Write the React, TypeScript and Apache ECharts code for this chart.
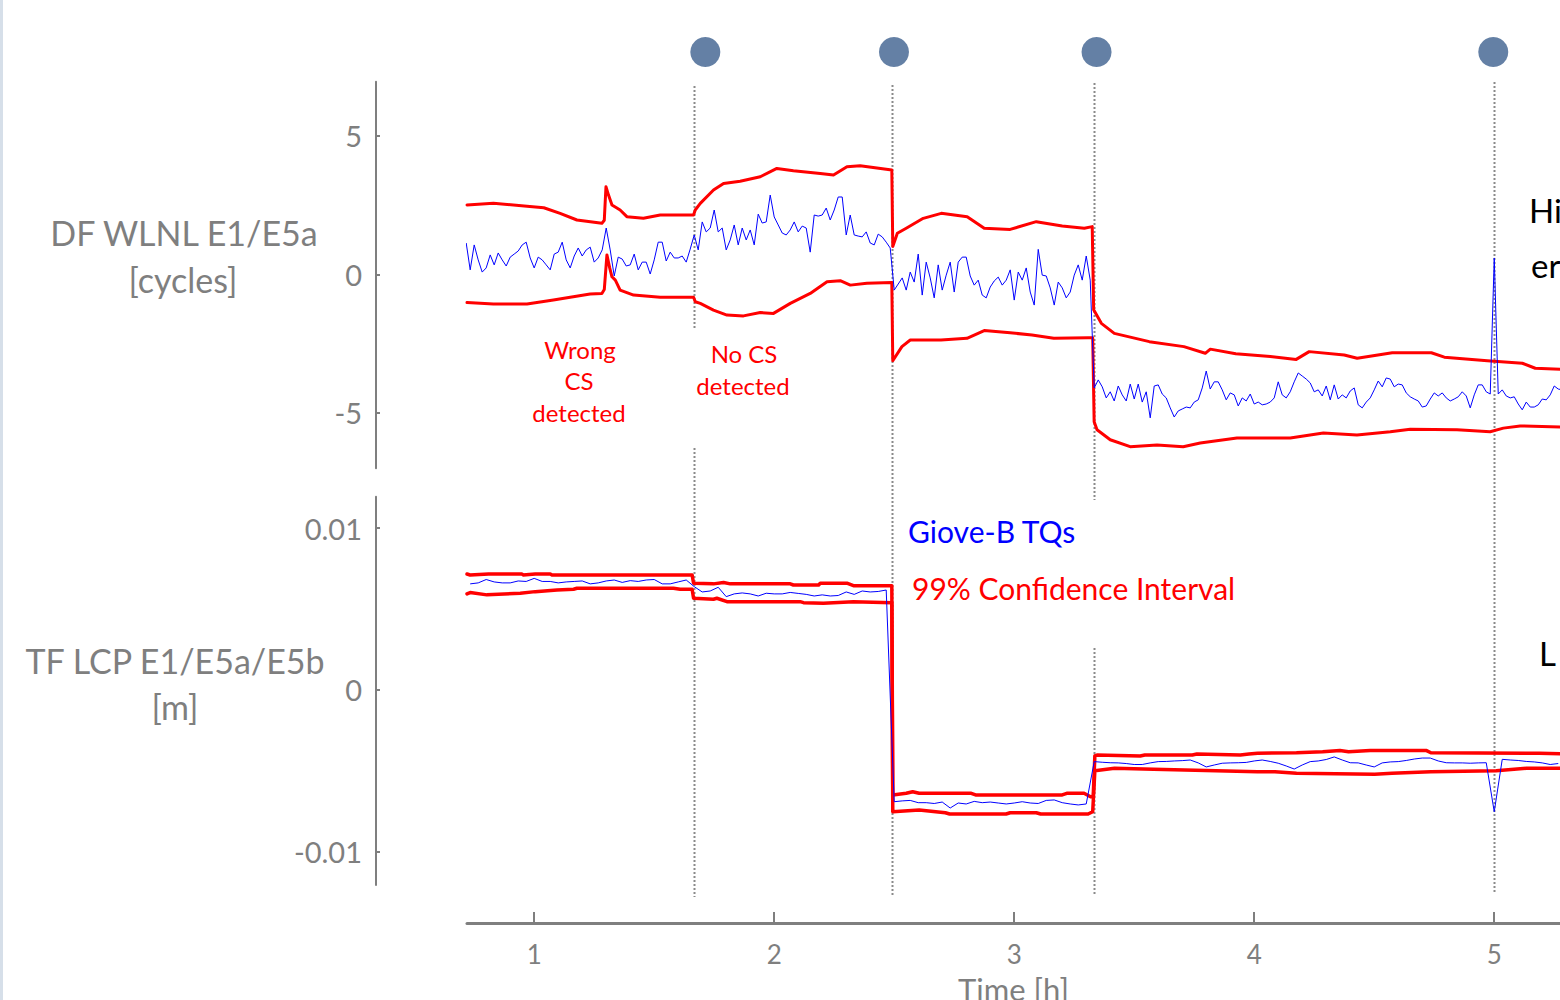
import React, { useEffect, useRef } from "react";
import * as echarts from "echarts";

// ---------- DATA ----------
// Top panel (DF WLNL E1/E5a, cycles): Giove-B test quantity, sampled every minute from minute 43
const TOP_T0_MIN = 43;
const TOP_STEP_MIN = 1;
const TOP_BLUE = [
  1.13, 0.16, 1.06, 0.52, 0.08, 0.23, 0.70, 0.34, 0.77, 0.52,
  0.30, 0.62, 0.73, 0.84, 1.06, 1.16, 0.59, 0.23, 0.62, 0.52,
  0.34, 0.16, 0.73, 0.80, 1.16, 0.52, 0.23, 0.66, 0.95, 0.66,
  0.88, 0.98, 0.44, 0.59, 0.88, 1.67, 0.88, -0.06, 0.62, 0.55,
  0.30, 0.34, 0.73, 0.16, 0.44, 0.44, 0.01, 0.52, 1.16, 1.16,
  0.48, 0.80, 0.59, 0.59, 0.66, 0.44, 0.91, 1.42,
  0.88, 1.89, 1.53, 1.67, 2.32, 1.53, 1.67, 0.88, 1.24, 1.78,
  1.06, 1.67, 1.24, 1.60, 1.06, 2.17, 1.85, 1.89, 2.86, 2.07,
  1.78, 1.49, 1.42, 1.60, 1.89, 1.53, 1.74, 1.67, 0.80, 2.14,
  2.10, 2.14, 2.39, 1.96, 2.32, 2.79, 2.79, 1.42, 2.14, 1.42,
  1.38, 1.35, 1.53, 1.13, 1.06, 1.45, 1.35, 1.16, 0.95,
  -0.57, -0.35, -0.13, -0.57, 0.08, -0.28, 0.73, -0.75, 0.44, -0.13,
  -0.85, 0.34, -0.57, -0.03, 0.44, -0.64, 0.44, 0.62, 0.62, -0.06,
  -0.39, -0.21, -0.75, -0.85, -0.46, -0.24, -0.10, -0.39, -0.21, 0.16,
  -0.93, 0.08, -0.21, 0.23, -0.64, -1.11, 0.90, -0.03, -0.06, -0.49,
  -1.11, -0.28, -0.49, -0.85, -0.64, -0.03, 0.34, -0.21, 0.66, -0.21,
  -4.10, -3.81, -4.06, -4.46, -4.24, -4.57, -4.03, -4.35, -4.57, -3.96,
  -4.50, -3.96, -4.61, -4.24, -5.18, -4.03, -3.99, -4.32, -4.46, -4.82,
  -5.15, -4.93, -4.86, -4.79, -4.82, -4.61, -4.53, -4.10, -3.49, -4.14,
  -3.88, -3.88, -4.17, -4.53, -4.28, -4.35, -4.75, -4.46, -4.57, -4.32,
  -4.68, -4.61, -4.71, -4.68, -4.61, -4.46, -3.88, -4.35, -4.46, -4.24,
  -3.88, -3.56, -3.67, -3.78, -3.92, -4.24, -4.17, -4.39, -4.03, -4.53,
  -3.99, -4.50, -4.35, -4.46, -4.21, -4.10, -4.71, -4.82, -4.61, -4.46,
  -4.17, -3.85, -4.06, -3.74, -3.78, -4.06, -3.96, -3.99, -4.28, -4.42,
  -4.50, -4.57, -4.79, -4.75, -4.50, -4.28, -4.39, -4.28, -4.46, -4.57,
  -4.50, -4.42, -4.24, -4.39, -4.82, -4.35, -3.99, -3.99, -4.24, -4.32,
  0.59, -4.32, -4.17, -4.39, -4.46, -4.42, -4.68, -4.89, -4.61, -4.79,
  -4.79, -4.71, -4.50, -4.53, -4.35, -4.03, -4.14, -4.17,
];
// 99% confidence interval bounds, [time h, cycles]
const TOP_UPPER = [
  [0.72, 2.5], [0.83, 2.56], [0.97, 2.46], [1.04, 2.4], [1.108, 2.2], [1.178, 1.96],
  [1.282, 1.84], [1.292, 1.95], [1.299, 3.16], [1.31, 2.85], [1.324, 2.5], [1.358, 2.32],
  [1.386, 2.08], [1.455, 2.02], [1.525, 2.14], [1.664, 2.14], [1.671, 2.32], [1.692, 2.56],
  [1.747, 3.04], [1.789, 3.28], [1.858, 3.36], [1.942, 3.52], [2.011, 3.82], [2.08, 3.74],
  [2.192, 3.64], [2.247, 3.58], [2.303, 3.88], [2.358, 3.92], [2.49, 3.76], [2.494, 1.0],
  [2.513, 1.48], [2.55, 1.66], [2.621, 2.02], [2.696, 2.2], [2.804, 2.08], [2.875, 1.66],
  [2.983, 1.62], [3.092, 1.9], [3.2, 1.74], [3.292, 1.66], [3.325, 1.72], [3.331, -1.28],
  [3.363, -1.77], [3.417, -2.13], [3.563, -2.43], [3.707, -2.61], [3.796, -2.85], [3.817, -2.7],
  [3.923, -2.87], [4.067, -2.97], [4.175, -3.07], [4.229, -2.79], [4.375, -2.91], [4.429, -3.03],
  [4.575, -2.83], [4.738, -2.83], [4.792, -2.99], [4.971, -3.12], [5.117, -3.21], [5.171, -3.39],
  [5.3, -3.43],
];
const TOP_LOWER = [
  [0.72, -1.02], [0.83, -1.07], [0.97, -1.07], [1.08, -0.93], [1.15, -0.83], [1.233, -0.71],
  [1.282, -0.69], [1.292, -0.55], [1.303, 0.7], [1.314, 0.25], [1.324, -0.09], [1.338, -0.21],
  [1.358, -0.57], [1.414, -0.75], [1.525, -0.83], [1.664, -0.83], [1.671, -0.99], [1.692, -1.05],
  [1.747, -1.29], [1.803, -1.47], [1.872, -1.5], [1.942, -1.38], [1.997, -1.41], [2.067, -1.05],
  [2.15, -0.69], [2.22, -0.27], [2.275, -0.23], [2.317, -0.39], [2.386, -0.32], [2.49, -0.3],
  [2.494, -3.12], [2.532, -2.61], [2.567, -2.37], [2.695, -2.37], [2.803, -2.31], [2.875, -2.03],
  [2.983, -2.11], [3.074, -2.19], [3.165, -2.31], [3.308, -2.29], [3.327, -2.29], [3.333, -5.32],
  [3.345, -5.61], [3.4, -5.97], [3.483, -6.22], [3.595, -6.16], [3.704, -6.22], [3.775, -6.09],
  [3.928, -5.91], [4.15, -5.91], [4.288, -5.73], [4.428, -5.8], [4.567, -5.68], [4.65, -5.59],
  [4.845, -5.61], [4.983, -5.68], [5.038, -5.55], [5.108, -5.47], [5.3, -5.52],
];

// Bottom panel (TF LCP E1/E5a/E5b), values in mm, sampled every 2 minutes from minute 44
const BOT_T0_MIN = 44;
const BOT_STEP_MIN = 2;
const BOT_BLUE_MM = [
  6.56, 6.62, 6.83, 6.68, 6.62, 6.62, 6.74, 6.71, 6.90, 6.71,
  6.71, 6.62, 6.68, 6.71, 6.74, 6.56, 6.62, 6.74, 6.80, 6.65,
  6.76, 6.71, 6.80, 6.83, 6.56, 6.56, 6.68, 6.80, 6.39,
  6.06, 6.12, 6.35, 5.77, 5.94, 6.00, 5.94, 5.81, 5.98, 5.94,
  5.94, 6.03, 5.97, 5.91, 5.81, 5.88, 5.81, 5.84, 6.06, 5.91,
  6.12, 6.06, 6.09, 6.18,
  -6.91, -6.86, -6.83, -6.97, -6.97, -7.02, -6.93, -7.30, -6.99, -7.05,
  -6.89, -6.97, -6.93, -6.99, -7.05, -6.99, -6.91, -6.99, -7.02, -6.83,
  -6.80, -6.97, -7.05, -7.11, -7.05,
  -4.43, -4.47, -4.50, -4.51, -4.55, -4.61, -4.61, -4.51, -4.43, -4.42,
  -4.39, -4.37, -4.33, -4.51, -4.76, -4.64, -4.53, -4.51, -4.50, -4.48,
  -4.39, -4.33, -4.42, -4.53, -4.70, -4.89, -4.64, -4.43, -4.39, -4.30,
  -4.14, -4.33, -4.50, -4.51, -4.64, -4.76, -4.51, -4.45, -4.43, -4.36,
  -4.27, -4.21, -4.21, -4.39, -4.50, -4.51, -4.51, -4.53, -4.51, -4.50,
  -7.53, -4.29, -4.33, -4.36, -4.42, -4.45, -4.51, -4.61, -4.55,
];
const BOT_UPPER_MM = [
  [0.72, 7.17], [0.733, 7.11], [0.81, 7.17], [0.949, 7.17], [0.954, 7.11], [1.004, 7.17],
  [1.067, 7.17], [1.074, 7.11], [1.658, 7.11], [1.664, 6.6], [1.747, 6.56], [1.789, 6.64],
  [1.817, 6.56], [2.067, 6.56], [2.08, 6.49], [2.185, 6.49], [2.192, 6.6], [2.303, 6.6],
  [2.33, 6.45], [2.49, 6.45], [2.494, -6.49], [2.55, -6.39], [2.577, -6.29], [2.604, -6.39],
  [2.821, -6.39], [2.839, -6.49], [3.2, -6.49], [3.219, -6.39], [3.291, -6.39], [3.318, -6.6],
  [3.329, -6.6], [3.336, -4.08], [3.345, -4.02], [3.525, -4.08], [3.544, -4.02], [3.742, -4.02],
  [3.761, -3.96], [3.942, -4.02], [3.978, -3.96], [4.014, -3.91], [4.176, -3.88], [4.285, -3.82],
  [4.357, -3.75], [4.393, -3.82], [4.483, -3.75], [4.718, -3.75], [4.736, -3.88], [5.188, -3.91],
  [5.3, -3.96],
];
const BOT_LOWER_MM = [
  [0.72, 5.94], [0.733, 6.02], [0.803, 5.88], [0.942, 5.98], [1.004, 6.08], [1.095, 6.18],
  [1.164, 6.23], [1.178, 6.29], [1.58, 6.29], [1.608, 6.23], [1.658, 6.23], [1.664, 5.67],
  [1.747, 5.61], [1.761, 5.67], [1.803, 5.46], [2.108, 5.46], [2.122, 5.4], [2.205, 5.36],
  [2.33, 5.46], [2.49, 5.4], [2.494, -7.53], [2.604, -7.42], [2.713, -7.59], [2.731, -7.67],
  [2.966, -7.67], [2.983, -7.59], [3.092, -7.59], [3.11, -7.67], [3.308, -7.67], [3.327, -7.53],
  [3.336, -4.99], [3.418, -4.84], [3.58, -4.9], [4.014, -5.05], [4.086, -5.05], [4.176, -5.15],
  [4.502, -5.21], [4.574, -5.15], [4.736, -5.05], [5.008, -4.99], [5.134, -4.84], [5.3, -4.84],
];

// Events (hours): dotted separators and the markers above them
const EVENT_TIMES = [1.667, 2.492, 3.333, 5.0];
const MARKER_TIMES = [1.713, 2.499, 3.343, 4.996];
const X_TICKS = [1, 2, 3, 4, 5];
const TOP_Y_TICKS = [-5, 0, 5];
const BOT_Y_TICKS_MM = [-10, 0, 10];

// ---------- STYLE / LAYOUT ----------
const FONT = "Lato, 'Noto Sans', sans-serif";
const GRAY = "#7f7f7f";
const RED = "#ff0000";
const BLUE = "#0000ff";
const X_MIN = 0.72;
const X_MAX = 5.274;
const GRID_LEFT = 467;
const GRID_WIDTH = 1093;
// vertical extents of each dotted separator (gaps where text boxes cover them)
const SEPARATOR_SEGMENTS = [
  [[86, 328], [448, 897]],
  [[85, 897]],
  [[83, 500], [648, 895]],
  [[82, 893]],
];

function minutesSeries(t0: number, step: number, vals: number[]) {
  return vals.map((v, i) => [(t0 + i * step) / 60, v]);
}

export default function App() {
  const ref = useRef<HTMLDivElement>(null);

  useEffect(() => {
    document.body.style.margin = "0";
    if (!ref.current) return;
    const chart = echarts.init(ref.current, undefined, { renderer: "svg" });

    const axisLineStyle = { color: GRAY, width: 2 };
    const option: any = {
      animation: false,
      backgroundColor: "#ffffff",
      grid: [
        { left: GRID_LEFT, top: 81.7, width: GRID_WIDTH, height: 386.6, outerBoundsMode: "none", containLabel: false },
        { left: GRID_LEFT, top: 496.7, width: GRID_WIDTH, height: 388.3, outerBoundsMode: "none", containLabel: false },
      ],
      xAxis: [
        { type: "value", gridIndex: 0, min: X_MIN, max: X_MAX, show: false },
        {
          type: "value",
          gridIndex: 1,
          min: X_MIN,
          max: X_MAX,
          position: "bottom",
          offset: 38,
          axisLine: { show: true, onZero: false, lineStyle: { color: GRAY, width: 3 } },
          axisTick: {
            show: true,
            inside: true,
            length: 11,
            customValues: X_TICKS,
            lineStyle: { color: GRAY, width: 2 },
          },
          axisLabel: {
            customValues: X_TICKS,
            color: GRAY,
            fontSize: 26,
            fontFamily: FONT,
            margin: 18,
          },
          splitLine: { show: false },
          name: "Time [h]",
          nameLocation: "middle",
          nameGap: 50,
          nameTextStyle: { color: GRAY, fontSize: 31, fontFamily: FONT },
        },
      ],
      yAxis: [
        {
          type: "value",
          gridIndex: 0,
          min: -7,
          max: 6.95,
          position: "left",
          offset: 91,
          axisLine: { show: true, onZero: false, lineStyle: axisLineStyle },
          axisTick: {
            show: true,
            inside: true,
            length: 4,
            customValues: TOP_Y_TICKS,
            lineStyle: { color: GRAY, width: 2 },
          },
          axisLabel: {
            customValues: TOP_Y_TICKS,
            color: GRAY,
            fontSize: 29,
            fontFamily: FONT,
            margin: 14,
            padding: [10, 0, 0, 0],
          },
          splitLine: { show: false },
        },
        {
          type: "value",
          gridIndex: 1,
          min: -12.06,
          max: 11.95,
          position: "left",
          offset: 91,
          axisLine: { show: true, onZero: false, lineStyle: axisLineStyle },
          axisTick: {
            show: true,
            inside: true,
            length: 4,
            customValues: BOT_Y_TICKS_MM,
            lineStyle: { color: GRAY, width: 2 },
          },
          axisLabel: {
            customValues: BOT_Y_TICKS_MM,
            color: GRAY,
            fontSize: 29,
            fontFamily: FONT,
            margin: 14,
            padding: [10, 0, 0, 0],
            formatter: (v: number) => String(Math.round(v) / 1000),
          },
          splitLine: { show: false },
        },
      ],
      series: [
        {
          type: "line", xAxisIndex: 0, yAxisIndex: 0, data: TOP_UPPER, symbol: "none",
          lineStyle: { color: RED, width: 3, join: "round", cap: "round" }, z: 2,
        },
        {
          type: "line", xAxisIndex: 0, yAxisIndex: 0, data: TOP_LOWER, symbol: "none",
          lineStyle: { color: RED, width: 3, join: "round", cap: "round" }, z: 2,
        },
        {
          type: "line", xAxisIndex: 0, yAxisIndex: 0,
          data: minutesSeries(TOP_T0_MIN, TOP_STEP_MIN, TOP_BLUE), symbol: "none",
          lineStyle: { color: BLUE, width: 1 }, z: 3,
        },
        {
          type: "line", xAxisIndex: 1, yAxisIndex: 1, data: BOT_UPPER_MM, symbol: "none",
          lineStyle: { color: RED, width: 3.5, join: "round", cap: "round" }, z: 2,
        },
        {
          type: "line", xAxisIndex: 1, yAxisIndex: 1, data: BOT_LOWER_MM, symbol: "none",
          lineStyle: { color: RED, width: 3.5, join: "round", cap: "round" }, z: 2,
        },
        {
          type: "line", xAxisIndex: 1, yAxisIndex: 1,
          data: minutesSeries(BOT_T0_MIN, BOT_STEP_MIN, BOT_BLUE_MM), symbol: "none",
          lineStyle: { color: BLUE, width: 1 }, z: 3,
        },
      ],
    };
    chart.setOption(option);

    const px = (t: number) => chart.convertToPixel({ xAxisIndex: 1 }, t) as number;

    const graphics: any[] = [];
    // left edge strip
    graphics.push({
      type: "rect",
      shape: { x: 0, y: 0, width: 3, height: 1000 },
      style: { fill: "#d6dfe9" },
      silent: true,
    });
    // dotted separators
    EVENT_TIMES.forEach((t, i) => {
      const x = Math.round(px(t)) + 0.5;
      SEPARATOR_SEGMENTS[i].forEach(([y1, y2]) => {
        graphics.push({
          type: "line",
          shape: { x1: x, y1, x2: x, y2 },
          style: { stroke: "#8a8a8a", lineWidth: 2, lineDash: [2, 2] },
          z: 1,
          silent: true,
        });
      });
    });
    // markers
    MARKER_TIMES.forEach((t) => {
      graphics.push({
        type: "circle",
        shape: { cx: px(t), cy: 52, r: 15 },
        style: { fill: "#6480a5" },
        silent: true,
      });
    });
    const text = (
      x: number,
      y: number,
      s: string,
      size: number,
      fill: string,
      align: string = "center"
    ) => ({
      type: "text",
      x,
      y,
      style: {
        text: s,
        font: `${size}px ${FONT}`,
        fill,
        textAlign: align,
        textVerticalAlign: "middle",
        align,
        verticalAlign: "middle",
      },
      z: 10,
      silent: true,
    });
    graphics.push(text(184, 232, "DF WLNL E1/E5a", 34, GRAY));
    graphics.push(text(183, 279, "[cycles]", 34, GRAY));
    graphics.push(text(175, 660, "TF LCP E1/E5a/E5b", 34, GRAY));
    graphics.push(text(175, 706, "[m]", 34, GRAY));

    graphics.push(text(580, 349, "Wrong", 24, RED));
    graphics.push(text(579, 380, "CS", 24, RED));
    graphics.push(text(579, 412, "detected", 24, RED));
    graphics.push(text(744, 353, "No CS", 24, RED));
    graphics.push(text(743, 385, "detected", 24, RED));

    graphics.push(text(908, 531, "Giove-B TQs", 30, BLUE, "left"));
    graphics.push(text(912, 588, "99% Confidence Interval", 30, RED, "left"));

    graphics.push(text(1529, 210, "Hi", 33, "#000000", "left"));
    graphics.push(text(1531, 265, "er", 33, "#000000", "left"));
    graphics.push(text(1539, 653, "L", 33, "#000000", "left"));

    chart.setOption({ graphic: graphics });

    return () => chart.dispose();
  }, []);

  return <div ref={ref} style={{ width: 1560, height: 1000 }} />;
}
